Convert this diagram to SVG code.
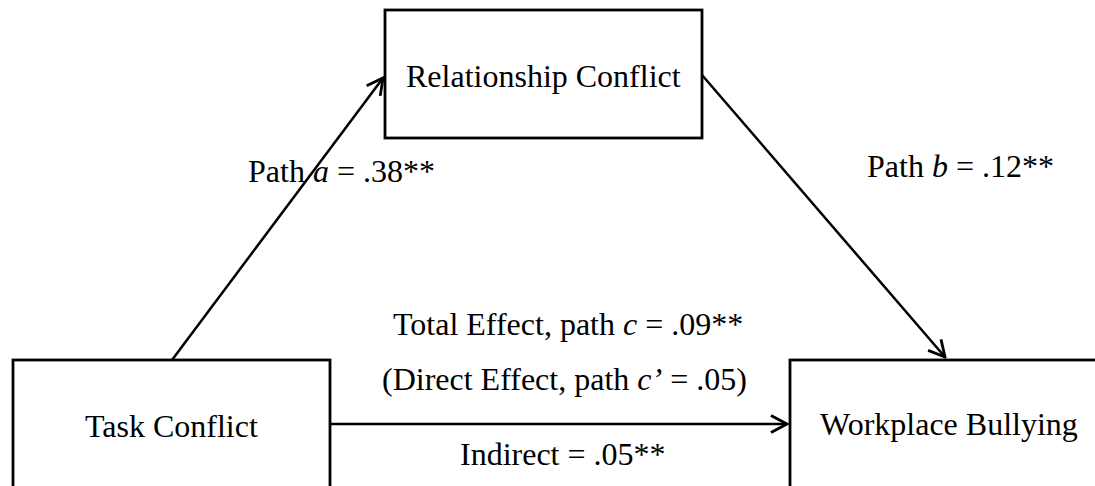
<svg xmlns="http://www.w3.org/2000/svg" width="1095" height="486" viewBox="0 0 1095 486">
<style>
.box{fill:#fff;stroke:#000;stroke-width:2.8}
.t{font-family:"Liberation Serif","Times New Roman",serif;font-size:32px;fill:#000}
.lbl{font-family:"Liberation Serif","Times New Roman",serif;font-size:32px;fill:#000}
.e{stroke:#000;stroke-width:2.5;fill:none}
</style>
<defs>
<marker id="ah" viewBox="0 0 20 20" refX="18" refY="10" markerWidth="20" markerHeight="20" markerUnits="userSpaceOnUse" orient="auto">
<path d="M2,1.5 L18,10 L2,18.5" fill="none" stroke="#000" stroke-width="2.8"/>
</marker>
</defs>
<rect width="1095" height="486" fill="#fff"/>
<g id="node-relationship">
<rect class="box" x="385" y="10" width="317" height="128"/>
<text class="t" x="406" y="87">Relationship Conflict</text>
</g>
<g id="node-task">
<rect class="box" x="13" y="360" width="317" height="140"/>
<text class="t" x="85" y="437">Task Conflict</text>
</g>
<g id="node-bullying">
<rect class="box" x="790" y="360" width="320" height="140"/>
<text class="t" x="820" y="435">Workplace Bullying</text>
</g>
<g id="connectors">
<line class="e" x1="172" y1="360" x2="383" y2="78" marker-end="url(#ah)"/>
<line class="e" x1="702" y1="75" x2="945" y2="357" marker-end="url(#ah)"/>
<line class="e" x1="330" y1="424" x2="787" y2="424" marker-end="url(#ah)"/>
</g>
<g id="labels">
<text class="lbl" x="248" y="182">Path <tspan font-style="italic">a</tspan> = .38**</text>
<text class="lbl" x="867" y="177">Path <tspan font-style="italic">b</tspan> = .12**</text>
<text class="lbl" x="393" y="335">Total Effect, path <tspan font-style="italic">c</tspan> = .09**</text>
<text class="lbl" x="382" y="390">(Direct Effect, path <tspan font-style="italic">c’</tspan> = .05)</text>
<text class="lbl" x="460" y="465">Indirect = .05**</text>
</g>
</svg>
